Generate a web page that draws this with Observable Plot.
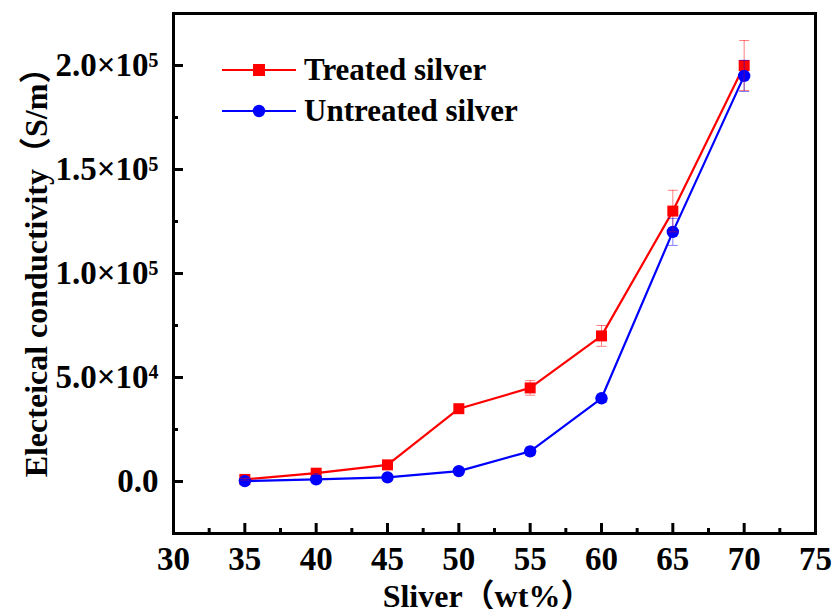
<!DOCTYPE html>
<html>
<head>
<meta charset="utf-8">
<script src="https://cdn.jsdelivr.net/npm/d3@7"></script>
<script src="https://cdn.jsdelivr.net/npm/@observablehq/plot@0.6"></script>
<style>
  html, body { margin: 0; padding: 0; background: #fff; }
  #wrap { position: relative; width: 832px; height: 609px; overflow: hidden; }
  .serif { font-family: "Times New Roman", "Liberation Serif", "Noto Sans CJK SC", serif; font-weight: bold; }
  #legend { position: absolute; left: 222px; top: 49px; font-size: 31px; color: #000; }
  #legend .row { display: flex; align-items: center; height: 41px; }
  #legend svg { margin-right: 8px; }
  #chart svg text { font-weight: bold; }
  #chart svg tspan.cjk { font-family: "Noto Sans CJK SC"; font-weight: normal; }
</style>
</head>
<body>
<div id="wrap">
  <div id="chart"></div>
  <div id="legend" class="serif"></div>
</div>
<script>
const silver = [35, 40, 45, 50, 55, 60, 65, 70];
const treated = [1000, 4000, 8000, 35000, 45000, 70000, 130000, 200000];
const treatedErr = [500, 600, 800, 1200, 3500, 5000, 10000, 12000];
const untreated = [200, 1000, 2000, 5000, 14500, 40000, 120000, 195000];
const untreatedErr = [300, 400, 500, 800, 2000, 2000, 6500, 7500];
const seriesNames = ["Treated silver", "Untreated silver"];
const seriesColors = ["#ff0000", "#0000ff"];
const xTicks = [30, 35, 40, 45, 50, 55, 60, 65, 70, 75];
const xMinor = [32.5, 37.5, 42.5, 47.5, 52.5, 57.5, 62.5, 67.5, 72.5];
const yTicks = [0, 50000, 100000, 150000, 200000];
const yTickLabels = ["0.0", "5.0×10⁴", "1.0×10⁵", "1.5×10⁵", "2.0×10⁵"];
const yMinor = [-25000, 25000, 75000, 125000, 175000, 225000];
const xLabel = "Sliver（wt%）";
const yLabel = "Electeical conductivity（S/m）";

const rows = [];
silver.forEach((x, i) => {
  rows.push({s: seriesNames[0], x, y: treated[i], e: treatedErr[i]});
});
silver.forEach((x, i) => {
  rows.push({s: seriesNames[1], x, y: untreated[i], e: untreatedErr[i]});
});
const tr = rows.filter(d => d.s === seriesNames[0]);
const un = rows.filter(d => d.s === seriesNames[1]);

const W = 832, H = 609, mL = 173, mR = 17, mT = 13, mB = 76;
const pw = W - mL - mR, ph = H - mT - mB;
const ff = "'Times New Roman','Liberation Serif','Noto Sans CJK SC',serif";
const cap = 0.35;

const errMarks = (data, color) => [
  Plot.ruleX(data, {x: "x", y1: d => d.y - d.e, y2: d => d.y + d.e, stroke: color, strokeOpacity: 0.5, strokeWidth: 1}),
  Plot.link(data, {x1: d => d.x - cap, x2: d => d.x + cap, y1: d => d.y + d.e, y2: d => d.y + d.e, stroke: color, strokeOpacity: 0.5, strokeWidth: 1}),
  Plot.link(data, {x1: d => d.x - cap, x2: d => d.x + cap, y1: d => d.y - d.e, y2: d => d.y - d.e, stroke: color, strokeOpacity: 0.5, strokeWidth: 1})
];

const chart = Plot.plot({
  width: W, height: H,
  marginLeft: mL, marginRight: mR, marginTop: mT, marginBottom: mB,
  style: {fontFamily: ff, fontWeight: "bold", fontSize: "30px", color: "#000", background: "transparent", overflow: "visible"},
  x: {domain: [30, 75]},
  y: {domain: [-25000, 225000]},
  marks: [
    Plot.line(tr, {x: "x", y: "y", stroke: seriesColors[0], strokeWidth: 2.2}),
    Plot.line(un, {x: "x", y: "y", stroke: seriesColors[1], strokeWidth: 2.2}),
    Plot.dot(tr, {x: "x", y: "y", symbol: "square", r: 6.2, fill: seriesColors[0]}),
    Plot.dot(un, {x: "x", y: "y", symbol: "circle", r: 6.2, fill: seriesColors[1]}),
    ...errMarks(tr, seriesColors[0]),
    ...errMarks(un, seriesColors[1]),
    Plot.frame({stroke: "#000", strokeWidth: 3}),
    Plot.tickX(xTicks, {x: d => d, insetTop: ph - 10, stroke: "#000", strokeWidth: 3}),
    Plot.tickX(xMinor, {x: d => d, insetTop: ph - 5, stroke: "#000", strokeWidth: 3}),
    Plot.tickY(yTicks, {y: d => d, insetRight: pw - 10, stroke: "#000", strokeWidth: 3}),
    Plot.tickY(yMinor, {y: d => d, insetRight: pw - 5, stroke: "#000", strokeWidth: 3}),
    Plot.axisX({ticks: xTicks, tickSize: 0, tickPadding: 13, fontSize: 33, label: null, tickFormat: d => String(d)}),
    Plot.axisY({ticks: yTicks, tickSize: 0, tickPadding: 15, fontSize: 33, label: null, tickFormat: (d) => yTickLabels[yTicks.indexOf(d)]}),
    Plot.text([xLabel], {text: d => d, ariaLabel: "xlabel", frameAnchor: "bottom", textAnchor: "middle", dx: -7, dy: 63, lineAnchor: "middle", fontSize: 32, fill: "#000"}),
    Plot.text([yLabel], {text: d => d, ariaLabel: "ylabel", frameAnchor: "left", textAnchor: "middle", rotate: -90, dx: -(mL - 36), dy: -9, lineAnchor: "middle", fontSize: 32, fill: "#000"})
  ]
});
document.getElementById("chart").appendChild(chart);

// render the full-width brackets with the CJK font and restore their full-width spacing
d3.select(chart).selectAll('g[aria-label="xlabel"] text, g[aria-label="ylabel"] text').each(function() {
  const el = d3.select(this);
  const txt = el.text();
  el.text(null);
  txt.split(/([（）])/).filter(s => s).forEach(part => {
    const t = el.append("tspan").text(part);
    if (part === "（") t.attr("class", "cjk").attr("dx", "0.4em");
    else if (part === "）") t.attr("class", "cjk");
  });
});
d3.select(chart).selectAll('g[aria-label="ylabel"] text').style("letter-spacing", "1px");

const legend = document.getElementById("legend");
seriesNames.forEach((name, i) => {
  const row = document.createElement("div");
  row.className = "row";
  const sym = i === 0
    ? `<rect x="31" y="9" width="12" height="12" fill="${seriesColors[i]}"/>`
    : `<circle cx="37" cy="15" r="6.2" fill="${seriesColors[i]}"/>`;
  row.innerHTML = `<svg width="74" height="30"><line x1="0" x2="74" y1="15" y2="15" stroke="${seriesColors[i]}" stroke-width="2.2"/>${sym}</svg><span>${name}</span>`;
  legend.appendChild(row);
});
</script>
</body>
</html>
